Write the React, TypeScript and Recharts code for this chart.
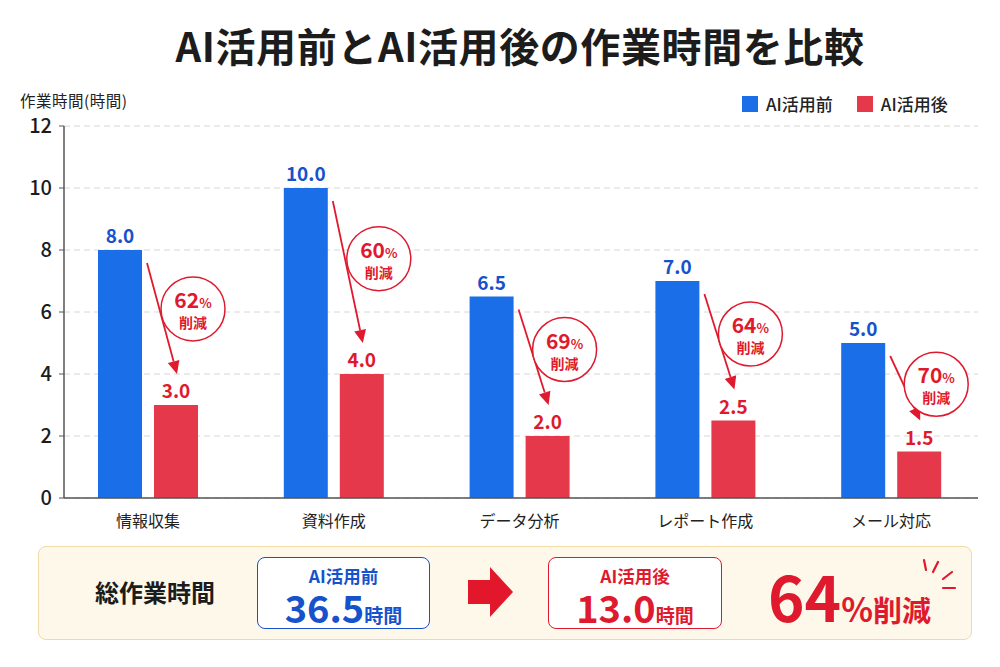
import React from 'react';
import { BarChart, Bar, XAxis, YAxis, CartesianGrid, LabelList } from 'recharts';

// work hours per task, before / after AI
const categories = ['情報収集', '資料作成', 'データ分析', 'レポート作成', 'メール対応'];
const beforeHours = [8.0, 10.0, 6.5, 7.0, 5.0];
const afterHours = [3.0, 4.0, 2.0, 2.5, 1.5];
const reductionRates = [62, 60, 69, 64, 70];
const yTicks = [0, 2, 4, 6, 8, 10, 12];

const totalBefore = '36.5';
const totalAfter = '13.0';
const totalReduction = 64;

const BLUE = '#1a6fe8';
const RED = '#e5384b';
const BLUE_TEXT = '#1652cc';
const RED_TEXT = '#e01a2e';
const FONT = '"Noto Sans CJK JP", "Noto Sans", sans-serif';
const BAR_SIZE = 44;
const BAR_GAP = 12;

const data = categories.map((name, i) => ({
  name,
  before: beforeHours[i],
  after: afterHours[i],
  rate: reductionRates[i],
}));

// red bar + the arrow / circle badge that points from the blue bar down to it
const AfterBar = (props: any) => {
  const { x, y, width, height, payload, fill } = props;
  const bottom = y + height;
  const unit = height / payload.after;
  const blueTop = bottom - payload.before * unit;
  const blueRight = x - BAR_GAP;

  const sx = blueRight + 5;
  const sy = blueTop + 13;
  const ex = x + width / 2 + 1;
  const ey = y - 31;
  const dx = ex - sx;
  const dy = ey - sy;
  const len = Math.hypot(dx, dy);
  const ux = dx / len;
  const uy = dy / len;
  const head = 13;
  const hw = 6;
  const bx = ex - ux * head;
  const by = ey - uy * head;
  const pts = `${ex},${ey} ${bx - uy * hw},${by + ux * hw} ${bx + uy * hw},${by - ux * hw}`;

  const cx = x + width / 2 + 17;
  const cy = blueTop + (y - blueTop) * 0.38;

  return (
    <g>
      <rect x={x} y={y} width={width} height={height} fill={fill} />
      <line x1={sx} y1={sy} x2={bx} y2={by} stroke={RED_TEXT} strokeWidth={1.8} />
      <polygon points={pts} fill={RED_TEXT} />
      <circle cx={cx} cy={cy} r={32} fill="#fff" stroke={RED_TEXT} strokeWidth={1.5} />
      <text x={cx} y={cy - 1} textAnchor="middle" fill={RED_TEXT} fontSize={21} fontWeight={700} fontFamily={FONT}>
        {payload.rate}
        <tspan fontSize={13}>%</tspan>
      </text>
      <text x={cx} y={cy + 19} textAnchor="middle" fill={RED_TEXT} fontSize={14} fontWeight={700} fontFamily={FONT}>
        削減
      </text>
    </g>
  );
};

const boxNum = { display: 'inline-block', fontSize: 38, lineHeight: '38px' } as const;
const boxUnit = { display: 'inline-block', fontSize: 19, lineHeight: '22px' } as const;

export default function App() {
  return (
    <div style={{ position: 'absolute', left: 0, top: 0, width: 1000, height: 667, background: '#fff', fontFamily: FONT, overflow: 'hidden' }}>
      <div style={{ position: 'absolute', top: 20, left: 20, width: 1000, textAlign: 'center', fontSize: 40, fontWeight: 700, color: '#1c1c1c', lineHeight: '50px', letterSpacing: 0.6 }}>
        AI活用前とAI活用後の作業時間を比較
      </div>
      <div style={{ position: 'absolute', left: 20, top: 89, fontSize: 15.5, color: '#222', lineHeight: '22px', letterSpacing: 0.5 }}>
        作業時間(時間)
      </div>

      {/* legend */}
      <div style={{ position: 'absolute', left: 742, top: 93, display: 'flex', alignItems: 'center', fontSize: 17, fontWeight: 500, color: '#222', lineHeight: '22px' }}>
        <span style={{ width: 16, height: 16, background: BLUE, display: 'inline-block', marginRight: 8 }} />
        <span>AI活用前</span>
        <span style={{ width: 16, height: 16, background: RED, display: 'inline-block', marginLeft: 24, marginRight: 8 }} />
        <span>AI活用後</span>
      </div>

      <div style={{ position: 'absolute', left: 0, top: 0 }}>
        <BarChart
          width={1000}
          height={540}
          data={data}
          margin={{ top: 126, right: 22, left: 14, bottom: 12 }}
          barGap={BAR_GAP}
          barSize={BAR_SIZE}
        >
          <CartesianGrid horizontal vertical={false} stroke="#d6d6d6" strokeDasharray="6 4" />
          <XAxis
            dataKey="name"
            padding={{ left: -9, right: -6 }}
            height={30}
            axisLine={{ stroke: '#555', strokeWidth: 1.5 }}
            tickLine={false}
            tickMargin={12}
            tick={{ fill: '#222', fontSize: 16, fontFamily: FONT }}
          />
          <YAxis
            width={50}
            domain={[0, 12]}
            ticks={yTicks}
            axisLine={{ stroke: '#555', strokeWidth: 1.5 }}
            tickLine={{ stroke: '#555' }}
            tickSize={5}
            tickMargin={7}
            tick={{ fill: '#1c1c1c', fontSize: 20, fontWeight: 500, fontFamily: FONT }}
          />
          <Bar dataKey="before" fill={BLUE} isAnimationActive={false}>
            <LabelList
              dataKey="before"
              position="top"
              offset={7}
              formatter={(v: any) => Number(v).toFixed(1)}
              style={{ fill: BLUE_TEXT, fontSize: 19, fontWeight: 700, fontFamily: FONT }}
            />
          </Bar>
          <Bar dataKey="after" fill={RED} shape={AfterBar} isAnimationActive={false}>
            <LabelList
              dataKey="after"
              position="top"
              offset={7}
              formatter={(v: any) => Number(v).toFixed(1)}
              style={{ fill: RED_TEXT, fontSize: 19, fontWeight: 700, fontFamily: FONT }}
            />
          </Bar>
        </BarChart>
      </div>

      {/* summary panel */}
      <div style={{ position: 'absolute', left: 38, top: 546, width: 932, height: 92, background: '#fdf8e9', border: '1.5px solid #f0dba6', borderRadius: 8 }} />
      <div style={{ position: 'absolute', left: 95, top: 574, fontSize: 24, fontWeight: 700, color: '#1c1c1c', lineHeight: '36px' }}>
        総作業時間
      </div>

      <div style={{ position: 'absolute', left: 257, top: 557, width: 171, height: 70, background: '#fff', border: `1.5px solid ${BLUE_TEXT}`, borderRadius: 8, textAlign: 'center', color: BLUE_TEXT, fontWeight: 700 }}>
        <div style={{ fontSize: 17.5, lineHeight: '20px', marginTop: 8 }}>AI活用前</div>
        <div style={{ lineHeight: '38px', height: 38, marginTop: 2 }}>
          <span style={boxNum}>{totalBefore}</span>
          <span style={boxUnit}>時間</span>
        </div>
      </div>

      <svg style={{ position: 'absolute', left: 466, top: 565 }} width={50} height={54}>
        <polygon points="2,15 24,15 24,2 47,27 24,52 24,39 2,39" fill="#e3172c" />
      </svg>

      <div style={{ position: 'absolute', left: 548, top: 557, width: 172, height: 70, background: '#fff', border: `1.5px solid ${RED_TEXT}`, borderRadius: 8, textAlign: 'center', color: RED_TEXT, fontWeight: 700 }}>
        <div style={{ fontSize: 17.5, lineHeight: '20px', marginTop: 8 }}>AI活用後</div>
        <div style={{ lineHeight: '38px', height: 38, marginTop: 2 }}>
          <span style={boxNum}>{totalAfter}</span>
          <span style={boxUnit}>時間</span>
        </div>
      </div>

      <div style={{ position: 'absolute', left: 768, top: 560, color: RED_TEXT, fontWeight: 700, lineHeight: '70px', whiteSpace: 'nowrap' }}>
        <span style={{ fontSize: 62 }}>{totalReduction}</span>
        <span style={{ fontSize: 33 }}>%</span>
        <span style={{ fontSize: 29 }}>削減</span>
      </div>
      <svg style={{ position: 'absolute', left: 915, top: 552 }} width={50} height={45}>
        <g stroke={RED_TEXT} strokeWidth={2.2} strokeLinecap="round">
          <line x1={9} y1={8} x2={11} y2={18} />
          <line x1={23} y1={10} x2={18} y2={20} />
          <line x1={37} y1={20} x2={28} y2={27} />
          <line x1={28} y1={36} x2={40} y2={36} />
        </g>
      </svg>
    </div>
  );
}
